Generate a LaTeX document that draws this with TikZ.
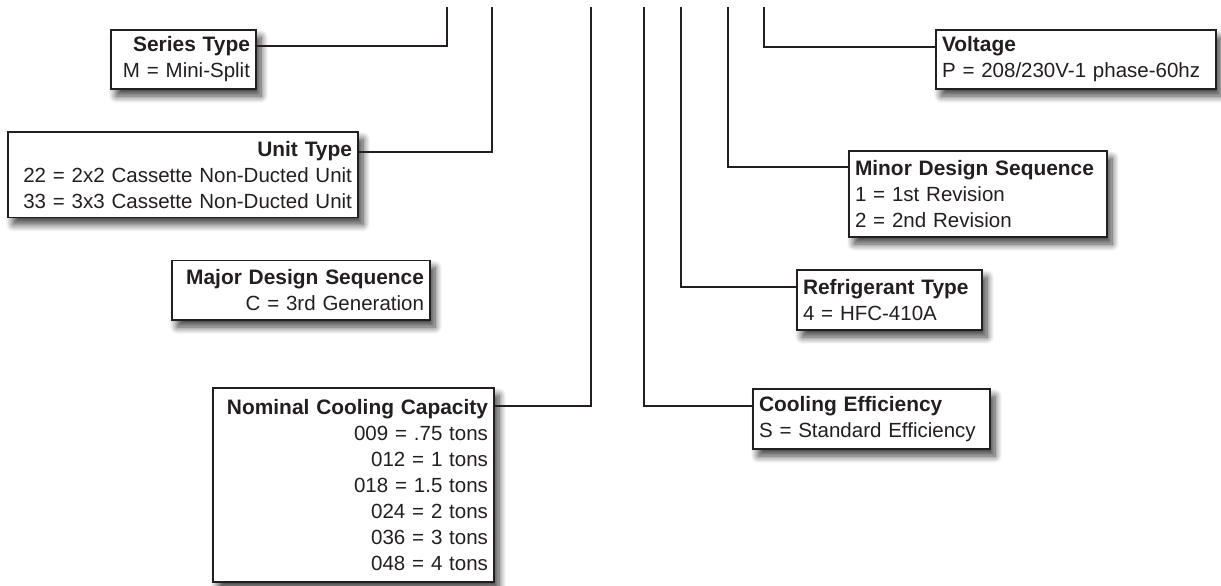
\documentclass[tikz,border=0pt]{standalone}
\usepackage{fontspec}
\setmainfont{Liberation Sans}
\usetikzlibrary{shadows.blur}
\definecolor{ink}{HTML}{231F20}
\newcommand\boxtitle[1]{{\fontsize{20.9}{26}\selectfont\bfseries #1}}
\begin{document}
\begin{tikzpicture}[x=1pt,y=-1pt,
  keybox/.style={draw=ink, line width=1.4pt, fill=white, text=ink,
    inner xsep=6pt, inner ysep=0pt,
    font=\fontsize{20.5}{26}\selectfont,
    blur shadow={shadow xshift=5pt, shadow yshift=-7pt, shadow blur radius=7pt,
      shadow blur steps=10, shadow opacity=75}},
  conn/.style={draw=ink, line width=2.6pt},
]
\useasboundingbox (0,0) rectangle (1221,586);

% boxes
\node[keybox, align=right, text width=133pt, minimum height=59pt] (series) at (183.5,59.5)
  {\boxtitle{Series Type}\\M = Mini-Split};
\node[keybox, align=right, text width=338pt, minimum height=85.5pt] (unit) at (183,174.75)
  {\boxtitle{Unit Type}\\22 = 2x2 Cassette Non-Ducted Unit\\33 = 3x3 Cassette Non-Ducted Unit};
\node[keybox, align=right, text width=246pt, minimum height=59.5pt] (major) at (301,290.25)
  {\boxtitle{Major Design Sequence}\\C = 3rd Generation};
\node[keybox, align=right, text width=269pt, minimum height=194pt] (nominal) at (353.5,485)
  {\boxtitle{Nominal Cooling Capacity}\\009 = .75 tons\\012 = 1 tons\\018 = 1.5 tons\\024 = 2 tons\\036 = 3 tons\\048 = 4 tons};
\node[keybox, align=left, text width=268pt, minimum height=59pt] (voltage) at (1076,59.5)
  {\boxtitle{Voltage}\\P = 208/230V-1 phase-60hz};
\node[keybox, align=left, text width=246pt, minimum height=86pt] (minor) at (978,194)
  {\boxtitle{Minor Design Sequence}\\1 = 1st Revision\\2 = 2nd Revision};
\node[keybox, align=left, text width=173pt, minimum height=60pt] (refr) at (889.5,300)
  {\boxtitle{Refrigerant Type}\\4 = HFC-410A};
\node[keybox, align=left, text width=225pt, minimum height=60pt] (cool) at (871.5,419)
  {\boxtitle{Cooling Efficiency}\\S = Standard Efficiency};

% connector corners and free ends
\coordinate (cS) at (447,46);  \coordinate (tS) at (447,7);
\coordinate (cU) at (492,152); \coordinate (tU) at (492,7);
\coordinate (cN) at (591,406); \coordinate (tN) at (591,7);
\coordinate (cC) at (644,406); \coordinate (tC) at (644,7);
\coordinate (cR) at (681,287); \coordinate (tR) at (681,7);
\coordinate (cM) at (728,167); \coordinate (tM) at (728,7);
\coordinate (cV) at (764,47);  \coordinate (tV) at (764,7);

\draw[conn] (series.east |- cS) -- (cS) -- (tS);
\draw[conn] (unit.east |- cU) -- (cU) -- (tU);
\draw[conn] (nominal.east |- cN) -- (cN) -- (tN);
\draw[conn] (tC) -- (cC) -- (cool.west |- cC);
\draw[conn] (tR) -- (cR) -- (refr.west |- cR);
\draw[conn] (tM) -- (cM) -- (minor.west |- cM);
\draw[conn] (tV) -- (cV) -- (voltage.west |- cV);
\end{tikzpicture}
\end{document}
